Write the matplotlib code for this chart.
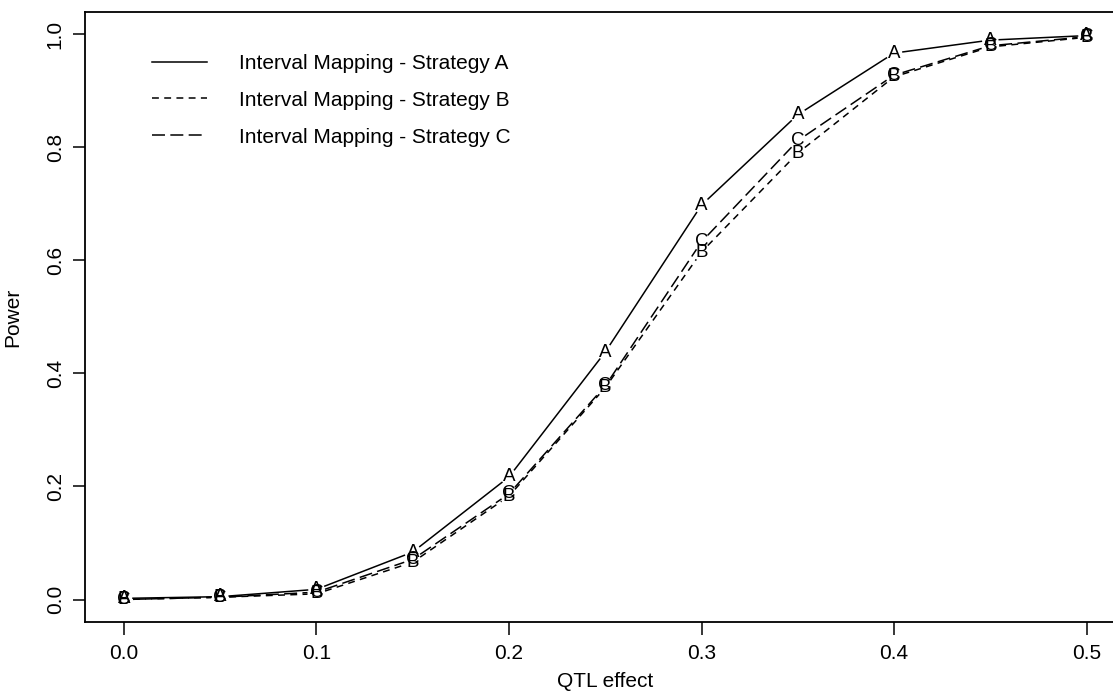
import numpy as np
import matplotlib
matplotlib.use("Agg")
import matplotlib.pyplot as plt
from matplotlib.lines import Line2D

plt.rcParams['font.family'] = ['Liberation Sans', 'DejaVu Sans']

qtl_effect = [0.0, 0.05, 0.1, 0.15, 0.2, 0.25, 0.3, 0.35, 0.4, 0.45, 0.5]
power_a = [0.002, 0.005, 0.018, 0.084, 0.217, 0.438, 0.698, 0.858, 0.967, 0.990, 0.998]
power_b = [0.0, 0.004, 0.010, 0.066, 0.183, 0.375, 0.615, 0.790, 0.925, 0.978, 0.995]
power_c = [0.0, 0.004, 0.013, 0.071, 0.187, 0.378, 0.633, 0.812, 0.928, 0.980, 0.996]

labels = ["Interval Mapping - Strategy A",
          "Interval Mapping - Strategy B",
          "Interval Mapping - Strategy C"]
letters = ["A", "B", "C"]
dash_styles = [None, (4.5, 3.5), (8.5, 3.5)]

fig = plt.figure(figsize=(11.13, 6.94), dpi=100)
ax = fig.add_axes([0.0768, 0.1036, 0.934, 0.8793])
ax.set_xlim(-0.02, 0.52)
ax.set_ylim(-0.04, 1.04)


def gapped_line(ax, xs, ys, gap_px, **kw):
    # like R type="b": leave a gap round every point
    pts = ax.transData.transform(np.column_stack([xs, ys]))
    inv = ax.transData.inverted()
    for p0, p1 in zip(pts[:-1], pts[1:]):
        d = p1 - p0
        n = np.hypot(*d)
        if n <= 2 * gap_px:
            continue
        u = d / n
        q0 = inv.transform(p0 + u * gap_px)
        q1 = inv.transform(p1 - u * gap_px)
        ln = Line2D([q0[0], q1[0]], [q0[1], q1[1]], color="black", lw=1.1, **kw)
        ax.add_line(ln)


series = [power_a, power_b, power_c]
for vals, letter, ds in zip(series, letters, dash_styles):
    kw = {} if ds is None else {"dashes": ds}
    gapped_line(ax, qtl_effect, vals, 9, **kw)
    for x, y in zip(qtl_effect, vals):
        ax.text(x, y, letter, ha="center", va="center", fontsize=13.5, color="black")

handles = []
for ds in dash_styles:
    kw = {} if ds is None else {"dashes": ds}
    handles.append(Line2D([], [], color="black", lw=1.1, **kw))
ax.legend(handles, labels, loc="upper left", bbox_to_anchor=(0.046, 0.962),
          frameon=False, fontsize=15, handlelength=2.65, handletextpad=1.5,
          labelspacing=0.86)

ax.set_xticks([0.0, 0.1, 0.2, 0.3, 0.4, 0.5])
ax.set_yticks([0.0, 0.2, 0.4, 0.6, 0.8, 1.0])
ax.set_xticklabels(["0.0", "0.1", "0.2", "0.3", "0.4", "0.5"])
ax.set_yticklabels(["0.0", "0.2", "0.4", "0.6", "0.8", "1.0"], rotation=90, va="center")
ax.tick_params(axis="both", labelsize=15, length=9, width=1.1, direction="out")
ax.tick_params(axis="x", pad=7)
ax.tick_params(axis="y", pad=6)

for s in ax.spines.values():
    s.set_linewidth(1.3)

ax.set_xlabel("QTL effect", fontsize=15, labelpad=6)
ax.set_ylabel("Power", fontsize=15, labelpad=17)

fig.savefig("out.png", dpi=100)
